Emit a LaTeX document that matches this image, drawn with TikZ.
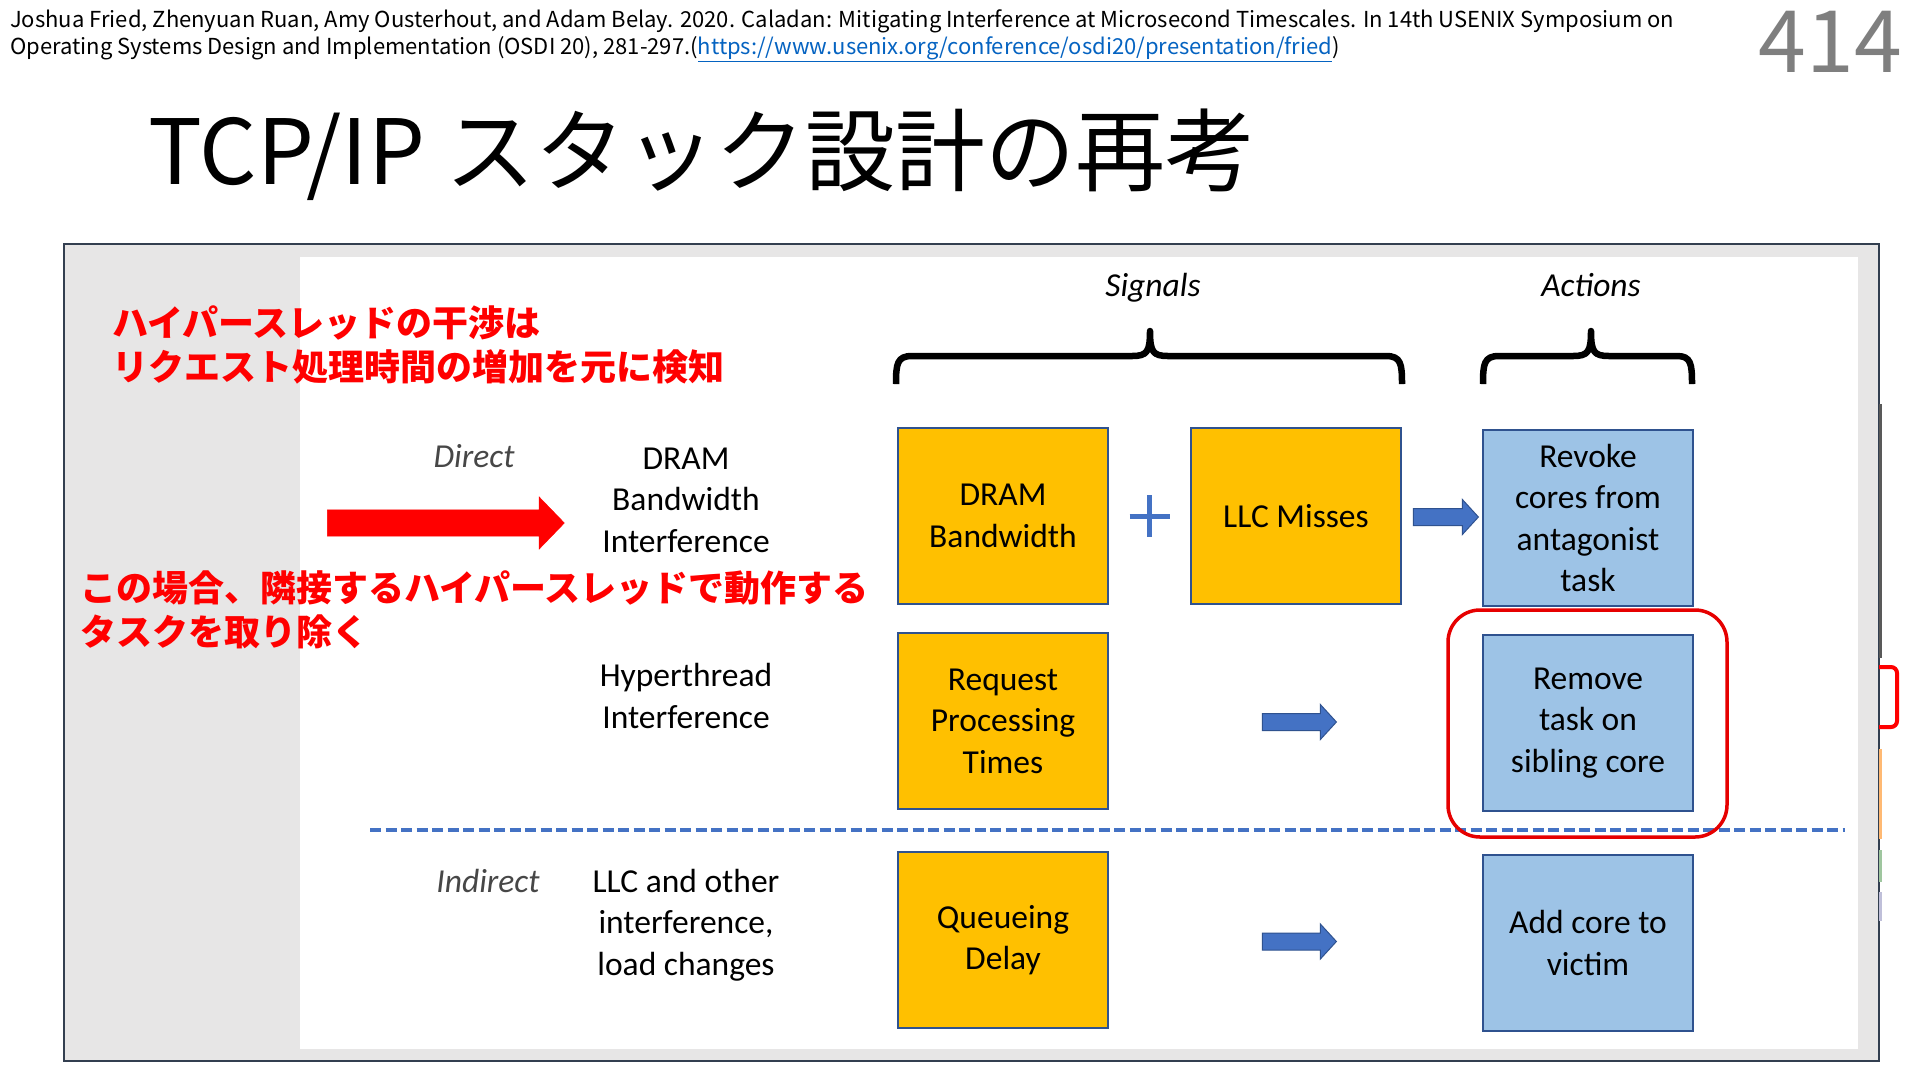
\documentclass[tikz,border=0pt]{standalone}
\usepackage{fontspec}
\setmainfont{Carlito}
\newfontfamily\jpfont{Noto Sans CJK JP}
\usepackage{tikz}
\usetikzlibrary{positioning}
\usetikzlibrary{arrows,shapes}
\usetikzlibrary{shapes.arrows}
\usetikzlibrary{calc}

\definecolor{sigorange}{RGB}{255,192,0}
\definecolor{actblue}{RGB}{157,195,230}
\definecolor{boxedge}{RGB}{47,82,143}
\definecolor{arrblue}{RGB}{68,114,196}
\definecolor{panelgray}{RGB}{231,230,230}
\definecolor{paneledge}{RGB}{51,63,80}
\definecolor{linkblue}{RGB}{5,99,193}
\definecolor{notered}{RGB}{255,0,0}
\definecolor{ringred}{RGB}{230,0,0}
\definecolor{pagegray}{RGB}{127,127,127}

\begin{document}
\begin{tikzpicture}[x=1pt, y=-1pt,
  body/.style={font=\fontsize{33.5}{41.5}\selectfont, align=center, inner sep=0pt},
  sigbox/.style={body, draw=boxedge, line width=2pt, fill=sigorange, minimum width=210pt, minimum height=176pt},
  actbox/.style={sigbox, fill=actblue},
  bluearrow/.style={single arrow, draw=boxedge, line width=1pt, fill=arrblue, inner xsep=0pt, inner ysep=8pt, single arrow head extend=9pt, single arrow tip angle=95},
  side/.style={body, font=\fontsize{33.5}{41.5}\selectfont\itshape, text=black!72},
  redtext/.style={font=\jpfont\bfseries\fontsize{36}{44}\selectfont, text=notered, align=left, inner sep=0pt},
  bracket/.style={line width=6.5pt, line join=round}]

\useasboundingbox (0,0) rectangle (1920,1080);

% panel
\draw[paneledge, fill=panelgray, line width=2.5pt] (64,244) rectangle (1879,1061);
\fill[white] (300,257) rectangle (1858,1049);

% bits of the next slide on the right edge
\draw[black!65, line width=3pt] (1880,404) -- (1880,658);
\draw[notered, line width=4pt, rounded corners=6pt] (1879,667) -- (1897,667) -- (1897,727) -- (1879,727);
\draw[orange!55, line width=3pt] (1880,749) -- (1880,839);
\draw[green!25!gray!60, line width=3pt] (1880,850) -- (1880,882);
\draw[blue!25!gray!40, line width=3pt] (1880,892) -- (1880,921);

\node[anchor=north west, inner sep=0pt, align=left, font=\jpfont\fontsize{22}{27}\selectfont] (cite) at (10,9)
  {Joshua Fried, Zhenyuan Ruan, Amy Ousterhout, and Adam Belay. 2020. Caladan: Mitigating Interference at Microsecond Timescales. In 14th USENIX Symposium on\\
   Operating Systems Design and Implementation (OSDI 20), 281-297.(\textcolor{linkblue}{\underline{https://www.usenix.org/conference/osdi20/presentation/fried}})};
\node[anchor=base east, inner sep=0pt, text=pagegray, font=\jpfont\fontsize{86}{90}\selectfont] (pageno) at (1902,72) {414};
\node[anchor=base west, inner sep=0pt, font=\jpfont\fontsize{90}{100}\selectfont] (title) at (148,184) {TCP/IP スタック設計の再考};

\node[redtext, anchor=west] (note1) at (112,345) {ハイパースレッドの干渉は\\リクエスト処理時間の増加を元に検知};

\node[side, text=black, anchor=base] (signals) at (1153,296) {Signals};
\node[side, text=black, anchor=base] (actions) at (1591,296) {Actions};

\def\by{356};
\draw[bracket] (896,384) .. controls (896,364) and (897,\by) .. (912,\by) -- (1132,\by)
  .. controls (1147,\by) and (1150,352) .. (1150,331)
  .. controls (1150,352) and (1153,\by) .. (1168,\by) -- (1386,\by)
  .. controls (1401,\by) and (1402,364) .. (1402,384);
\draw[bracket] (1483,384) .. controls (1483,364) and (1484,\by) .. (1499,\by) -- (1573,\by)
  .. controls (1588,\by) and (1591,352) .. (1591,331)
  .. controls (1591,352) and (1594,\by) .. (1609,\by) -- (1677,\by)
  .. controls (1691,\by) and (1692,364) .. (1692,384);

\node[single arrow, fill=notered, draw=notered, minimum height=237pt, inner xsep=0pt, inner ysep=13pt, single arrow head extend=13pt, single arrow tip angle=92] (bigarrow) at (439.5,523) {};

\node[side, anchor=base] (direct) at (474,467) {Direct};
\node[body] (dramsrc) at (686,500) {DRAM\\Bandwidth\\Interference};
\node[body] (htsrc) at (686,696) {Hyperthread\\Interference};
\node[side, anchor=base] (indirect) at (488,892) {Indirect};
\node[body] (llcsrc) at (686,925) {LLC and other\\interference,\\load changes};

\node[sigbox] (dram) at (1003,516) {DRAM\\Bandwidth};
\node[sigbox] (llc) at (1296,516) {LLC Misses};
\node[actbox] (revoke) at (1588,518) {Revoke\\cores from\\antagonist\\task};
\node[sigbox] (rpt) at (1003,721) {Request\\Processing\\Times};
\node[actbox] (remove) at (1588,723) {Remove\\task on\\sibling core};
\node[sigbox] (qdelay) at (1003,940) {Queueing\\Delay};
\node[actbox] (addcore) at (1588,943) {Add core to\\victim};

\coordinate (plus) at ($(dram.east)!0.5!(llc.west)$);
\draw[arrblue, line width=5pt] ($(plus)+(-20,0)$) -- ($(plus)+(20,0)$) ($(plus)+(0,-21)$) -- ($(plus)+(0,21)$);

\node[bluearrow, minimum height=65pt] (arr1) at ($(llc.east)!0.5!(revoke.west)$) {};
\node[bluearrow, minimum height=74pt] (arr2) at ($(rpt.east)!0.5!(remove.west)$) {};
\node[bluearrow, minimum height=74pt] (arr3) at ($(qdelay.east)!0.5!(addcore.west)$) {};

\draw[arrblue, line width=3.5pt, dash pattern=on 11pt off 4.5pt] (370,830) -- (1845,830);

\draw[ringred, line width=3.5pt, rounded corners=32pt] ($(remove.north west)+(-34,-24)$) rectangle ($(remove.south east)+(33,25)$);

\node[redtext, anchor=west] (note2) at (80,610) {この場合、隣接するハイパースレッドで動作する\\タスクを取り除く};

\end{tikzpicture}
\end{document}
